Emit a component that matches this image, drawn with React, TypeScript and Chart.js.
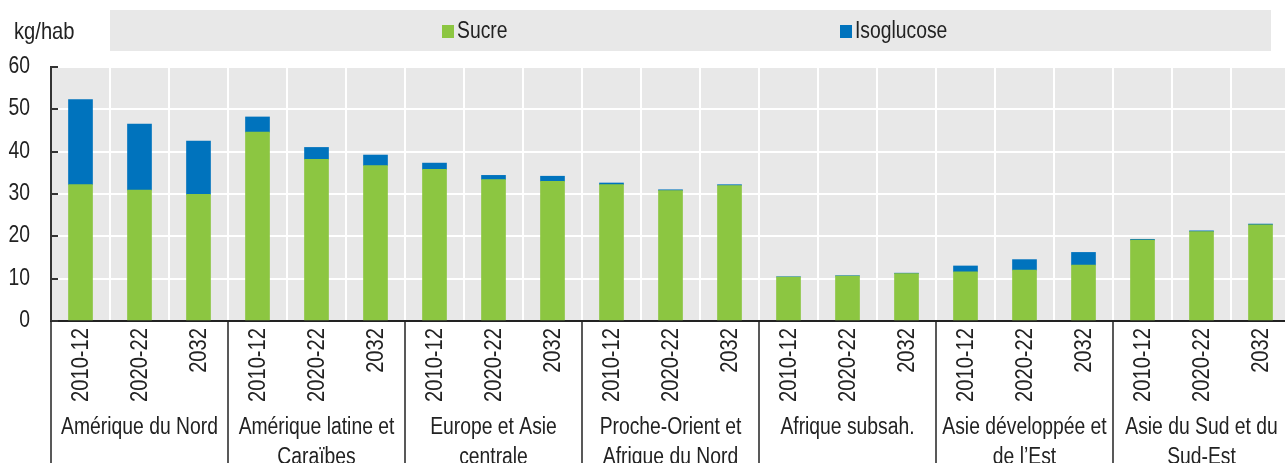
import React, { useEffect, useRef } from "react";
import { Chart, registerables } from "chart.js";

Chart.register(...registerables);

const regions: string[][] = [
  ["Amérique du Nord"],
  ["Amérique latine et", "Caraïbes"],
  ["Europe et Asie", "centrale"],
  ["Proche-Orient et", "Afrique du Nord"],
  ["Afrique subsah."],
  ["Asie développée et", "de l’Est"],
  ["Asie du Sud et du", "Sud-Est"],
];
const periods = ["2010-12", "2020-22", "2032"];
const yTicks = [0, 10, 20, 30, 40, 50, 60];
const unitLabel = "kg/hab";

// Values per region, in period order
const sucre = [
  32.2, 30.9, 29.9,
  44.6, 38.2, 36.7,
  35.8, 33.4, 33.0,
  32.2, 30.8, 32.0,
  10.4, 10.6, 11.2,
  11.6, 12.0, 13.2,
  19.1, 21.1, 22.7,
];
const isoglucose = [
  20.1, 15.6, 12.6,
  3.6, 2.8, 2.5,
  1.5, 1.0, 1.2,
  0.4, 0.2, 0.2,
  0.05, 0.1, 0.1,
  1.4, 2.5, 3.0,
  0.2, 0.2, 0.2,
];

const labels: string[] = [];
regions.forEach(() => periods.forEach((p) => labels.push(p)));

const FONT = "'Liberation Sans', Arial, sans-serif";
const FS = 23;
const SX = 0.84; // condensed look
const TEXT = "#222222";
const GREEN = "#8CC641";
const BLUE = "#0073BD";
const PLOT_BG = "#E8E8E8";

function txt(ctx: CanvasRenderingContext2D, s: string, x: number, y: number, align: CanvasTextAlign, rot = 0, size = FS) {
  ctx.save();
  ctx.translate(x, y);
  if (rot) ctx.rotate(rot);
  ctx.scale(SX, 1);
  ctx.font = `${size}px ${FONT}`;
  ctx.fillStyle = TEXT;
  ctx.textAlign = align;
  ctx.textBaseline = "middle";
  ctx.fillText(s, 0, 0);
  ctx.restore();
}

const decor = {
  id: "decor",
  beforeDraw(chart: any) {
    const { ctx, chartArea: a } = chart;
    ctx.save();
    ctx.fillStyle = PLOT_BG;
    ctx.fillRect(a.left, a.top, a.right - a.left, a.bottom - a.top);
    // legend band
    ctx.fillRect(110, 10, 1161, 41);
    ctx.restore();
  },
  afterDraw(chart: any) {
    const { ctx, chartArea: a } = chart;
    const xs = chart.scales.x;
    const ys = chart.scales.y;
    ctx.save();
    // unit label
    txt(ctx, unitLabel, 14, 32, "left", 0, 24);
    // legend
    const legX = [442, 840];
    chart.data.datasets.forEach((ds: any, i: number) => {
      ctx.fillStyle = ds.backgroundColor;
      ctx.fillRect(legX[i], 25, 12, 13);
      txt(ctx, ds.label, legX[i] + 15, 32, "left");
    });
    // y tick labels and inside tick marks
    ctx.strokeStyle = "#333";
    ctx.lineWidth = 2;
    ys.ticks.forEach((t: any) => {
      const y = Math.round(ys.getPixelForValue(t.value));
      ctx.beginPath();
      ctx.moveTo(a.left, y);
      ctx.lineTo(a.left + 7, y);
      ctx.stroke();
      txt(ctx, String(t.value), 30, y, "right");
    });
    // x tick labels (rotated)
    chart.data.labels.forEach((l: string, i: number) => {
      const x = xs.getPixelForValue(i);
      txt(ctx, l, x + 1, a.bottom + 7, "right", -Math.PI / 2, 24);
    });
    // group separators and labels
    const step = xs.getPixelForValue(1) - xs.getPixelForValue(0);
    ctx.strokeStyle = "#222";
    ctx.lineWidth = 1.5;
    for (let g = 0; g <= regions.length; g++) {
      const x = Math.round(xs.getPixelForValue(g * 3) - step / 2);
      ctx.beginPath();
      ctx.moveTo(x, a.bottom);
      ctx.lineTo(x, chart.height);
      ctx.stroke();
    }
    regions.forEach((lines, g) => {
      const cx = xs.getPixelForValue(g * 3 + 1);
      lines.forEach((ln, k) => txt(ctx, ln, cx, 428 + k * 30, "center"));
    });
    ctx.restore();
  },
};

export default function App() {
  const ref = useRef<HTMLCanvasElement | null>(null);
  useEffect(() => {
    if (!ref.current) return;
    const chart = new Chart(ref.current, {
      type: "bar",
      data: {
        labels,
        datasets: [
          { label: "Sucre", data: sucre, backgroundColor: GREEN, barThickness: 24 },
          { label: "Isoglucose", data: isoglucose, backgroundColor: BLUE, barThickness: 24 },
        ],
      },
      options: {
        responsive: false,
        devicePixelRatio: 1,
        animation: false,
        layout: { padding: { top: 67, right: 10, left: 0, bottom: 0 } },
        plugins: { legend: { display: false }, tooltip: { enabled: false } },
        scales: {
          x: {
            stacked: true,
            afterFit: (s: any) => { s.height = 142; },
            grid: { color: "#FFFFFF", lineWidth: 2, drawTicks: false, offset: true },
            border: { display: true, color: "#222", width: 2 },
            ticks: { display: false, autoSkip: false },
          },
          y: {
            stacked: true,
            min: 0,
            max: 60,
            afterFit: (s: any) => { s.width = 51; },
            afterBuildTicks: (s: any) => { s.ticks = yTicks.map((v) => ({ value: v })); },
            grid: { color: "#FFFFFF", lineWidth: 2, drawTicks: false },
            border: { display: true, color: "#333", width: 2 },
            ticks: { display: false },
          },
        },
      },
      plugins: [decor],
    });
    return () => chart.destroy();
  }, []);
  return (
    <div style={{ position: "fixed", left: 0, top: 0, width: 1285, height: 463, overflow: "hidden", background: "#fff" }}>
      <canvas ref={ref} width={1300} height={463} style={{ display: "block" }} />
    </div>
  );
}
